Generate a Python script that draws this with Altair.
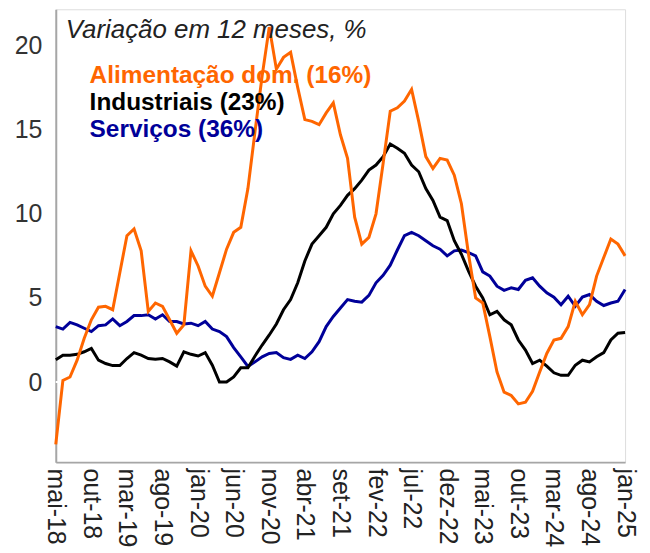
import altair as alt
import pandas as pd

# ---- data -------------------------------------------------------------
meses_pt = ["jan", "fev", "mar", "abr", "mai", "jun", "jul", "ago", "set", "out", "nov", "dez"]
n_meses = 81  # mai-18 .. jan-25
mes_labels = [f"{meses_pt[(4 + k) % 12]}-{18 + (4 + k) // 12:02d}" for k in range(n_meses)]
tick_labels = mes_labels[::5]

alimentacao = [
    -3.7, 0.1, 0.3, 1.3, 2.6, 3.7, 4.45, 4.5, 4.3, 6.5,
    8.7, 9.1, 7.8, 4.2, 4.7, 4.5, 3.7, 2.9, 3.4, 7.8,
    6.9, 5.7, 5.1, 6.5, 7.9, 8.9, 9.2, 11.5, 14.9, 18.2,
    21.1, 18.6, 19.3, 19.6, 17.5, 15.6, 15.5, 15.3, 16.0, 16.6,
    14.7, 13.3, 9.8, 8.2, 8.6, 10.0, 13.0, 16.1, 16.3, 16.7,
    17.4, 15.5, 13.4, 12.7, 13.3, 13.2, 12.3, 10.6, 7.6, 5.0,
    4.7, 2.7, 0.6, -0.6, -0.8, -1.3, -1.2, -0.55, 0.6, 1.7,
    2.5, 2.6, 3.3, 4.8, 4.0, 4.6, 6.3, 7.4, 8.5, 8.2,
    7.5,
]
industriais = [
    1.33, 1.6, 1.6, 1.65, 1.8, 2.0, 1.3, 1.1, 0.98, 0.98,
    1.4, 1.75, 1.6, 1.4, 1.35, 1.4, 1.2, 0.95, 1.8, 1.65,
    1.55, 1.75, 1.0, 0.0, 0.0, 0.3, 0.85, 0.85, 1.55, 2.2,
    2.8, 3.45, 4.3, 4.9, 5.9, 7.2, 8.2, 8.7, 9.2, 10.0,
    10.5, 11.1, 11.5, 12.0, 12.6, 12.9, 13.4, 14.15, 13.9, 13.6,
    12.9, 12.5, 11.5, 10.8, 9.8, 9.6, 8.4, 7.6, 6.6, 5.7,
    5.0, 4.0, 4.2, 3.7, 3.4, 2.5, 1.9, 1.1, 1.3, 0.95,
    0.55, 0.4, 0.4, 1.0, 1.3, 1.2, 1.5, 1.75, 2.5, 2.9,
    2.95,
]
servicos = [
    3.3, 3.15, 3.55, 3.4, 3.2, 3.0, 3.35, 3.4, 3.75, 3.35,
    3.6, 3.95, 3.95, 4.0, 3.75, 4.0, 3.6, 3.6, 3.45, 3.5,
    3.35, 3.6, 3.15, 3.0, 2.7, 2.05, 1.5, 0.93, 1.2, 1.5,
    1.7, 1.75, 1.45, 1.35, 1.6, 1.4, 1.8, 2.4, 3.3, 3.9,
    4.4, 4.9, 4.8, 4.75, 5.15, 5.9, 6.35, 6.95, 7.85, 8.7,
    8.9, 8.7, 8.4, 8.1, 7.9, 7.5, 7.8, 7.85, 7.7, 7.5,
    6.55, 6.3, 5.7, 5.45, 5.6, 5.5, 6.05, 6.2, 5.7, 5.3,
    5.05, 4.6, 5.1, 4.5, 5.05, 5.2, 4.8, 4.55, 4.7, 4.8,
    5.5,
]

series_names = ["Serviços", "Industriais", "Alimentação dom."]
series_values = [servicos, industriais, alimentacao]
series_colors = ["#000099", "#000000", "#FF6600"]
legend_texts = ["Alimentação dom. (16%)", "Industriais (23%)", "Serviços (36%)"]
legend_colors = ["#FF6600", "#000000", "#000099"]
chart_title = "Variação em 12 meses, %"

rows = []
for name, vals in zip(series_names, series_values):
    for k, v in enumerate(vals):
        rows.append({"mes": mes_labels[k], "serie": name, "valor": v, "ordem": k})
df = pd.DataFrame(rows)

FONT = "Liberation Sans"

x_enc = alt.X(
    "mes:O",
    sort=mes_labels,
    scale=alt.Scale(type="point", padding=0),
    axis=alt.Axis(
        values=tick_labels, labelAngle=90, title=None, ticks=False, grid=False,
        domainColor="#a6a6a6", domainWidth=2, labelFontSize=25, labelColor="#222222",
        labelPadding=6, labelFont=FONT,
    ),
)
y_scale = alt.Scale(domain=[-4.76, 22.16], nice=False, zero=False)
y_axis = alt.Axis(
    values=[0, 5, 10, 15, 20], title=None, ticks=False, grid=False,
    domainColor="#a6a6a6", domainWidth=2, labelFontSize=25, labelColor="#333333",
    labelPadding=14, labelFont=FONT,
)

zero_rule = alt.Chart(pd.DataFrame({"y": [0]})).mark_rule(
    color="white", strokeWidth=2
).encode(y=alt.Y("y:Q", scale=y_scale, axis=y_axis))

lines = alt.Chart(df).mark_line(strokeWidth=3).encode(
    x=x_enc,
    y=alt.Y("valor:Q", scale=y_scale, axis=y_axis),
    color=alt.Color("serie:N", scale=alt.Scale(domain=series_names, range=series_colors), legend=None),
    order=alt.Order("ordem:Q"),
)

title_layer = alt.Chart(pd.DataFrame({"t": [chart_title]})).mark_text(
    align="left", baseline="alphabetic", fontSize=26, fontStyle="italic",
    font=FONT, color="#222222",
).encode(text="t:N", x=alt.value(10), y=alt.value(29))

legend_layers = []
for idx, (txt, col) in enumerate(zip(legend_texts, legend_colors)):
    legend_layers.append(
        alt.Chart(pd.DataFrame({"t": [txt]})).mark_text(
            align="left", baseline="alphabetic", fontSize=24.5, fontWeight="bold",
            font=FONT, color=col,
        ).encode(text="t:N", x=alt.value(34), y=alt.value(74 + 27 * idx))
    )

chart = alt.layer(zero_rule, lines, title_layer, *legend_layers).properties(
    width=572, height=455,
    padding={"left": 6, "top": 0, "right": 5, "bottom": 0},
).configure_view(fill="#F1F1F1", stroke=None).configure(background="white")

chart.save("out.html", embed_options={"renderer": "svg", "actions": False})
